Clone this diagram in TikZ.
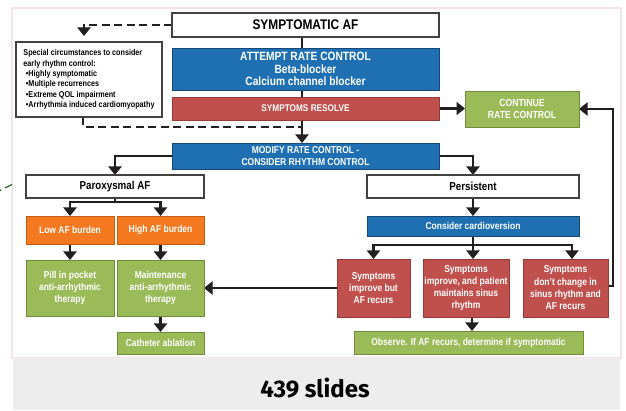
\documentclass[tikz,border=0pt]{standalone}
\usepackage{fontspec}
\setmainfont{Liberation Sans}[FakeStretch=0.85]
\newfontfamily\slidesfont{Fira Sans}
\usetikzlibrary{arrows.meta}

\definecolor{afblue}{RGB}{31,112,179}
\definecolor{afbluedark}{RGB}{24,72,118}
\definecolor{afred}{RGB}{192,80,77}
\definecolor{afreddark}{RGB}{150,58,55}
\definecolor{afgreen}{RGB}{155,187,89}
\definecolor{afgreendark}{RGB}{112,140,58}
\definecolor{aforange}{RGB}{244,121,32}
\definecolor{aforangedark}{RGB}{196,92,18}
\definecolor{afline}{RGB}{35,31,32}
\definecolor{afpink}{RGB}{246,226,232}
\definecolor{afband}{RGB}{237,237,237}
\definecolor{afmark}{RGB}{40,100,40}

\newcommand\txtsize[2]{\fontsize{#1}{#2}\selectfont}

\pgfdeclarelayer{panel}
\pgfdeclarelayer{links}
\pgfsetlayers{panel,links,main}

\tikzset{
  % a box given by its corners: {left}{top}{right}{bottom}
  spot/.style n args={4}{minimum width={#3-#1}, minimum height={#4-#2},
    at={({(#1+#3)/2},{(#2+#4)/2})}},
  box/.style={inner sep=0pt, outer sep=0pt, align=center, line width=0.8pt,
    font=\bfseries\txtsize{10}{12.3}, text=white},
  whitebox/.style={box, fill=white, draw=afline!85, line width=1.2pt, text=black},
  bluebox/.style={box, fill=afblue, draw=afbluedark},
  redbox/.style={box, fill=afred, draw=afreddark},
  greenbox/.style={box, fill=afgreen, draw=afgreendark},
  orangebox/.style={box, fill=aforange, draw=aforangedark},
  linkline/.style={line width=2.5pt, draw=afline},
  link/.style={linkline, -{Triangle[width=13pt,length=8.5pt]}},
  dashlink/.style={linkline, dash pattern=on 8pt off 4.5pt},
}

\begin{document}
\begin{tikzpicture}[x=1pt,y=-1pt]
\useasboundingbox (0,0) rectangle (626,411);

% slide panel and caption band
\begin{pgfonlayer}{panel}
  \fill[white] (0,0) rectangle (626,411);
  \draw[afpink, fill=white, line width=1.2pt] (12,8) rectangle (621,358);
  \fill[afband] (13,358) rectangle (620,410);
  \draw[afmark, line width=1.2pt, dash pattern=on 1.5pt off 4pt on 8pt off 10pt]
    (0,190.5) -- (12,184.5);
\end{pgfonlayer}

% main column
\node[whitebox, font=\bfseries\txtsize{14}{16}, spot={172}{13}{439}{37}] (sym) {SYMPTOMATIC AF};
\node[bluebox, font=\bfseries\txtsize{12}{12.6}, spot={172}{48}{439}{90}] (rate)
  {ATTEMPT RATE CONTROL\\Beta-blocker\\Calcium channel blocker};
\node[redbox, font=\bfseries\txtsize{9.7}{12}, spot={172}{97}{439}{120}] (resolve) {SYMPTOMS RESOLVE};
\node[greenbox, font=\bfseries\txtsize{10.2}{12.8}, spot={465}{91}{579}{127}] (cont) {CONTINUE\\RATE CONTROL};
\node[bluebox, font=\bfseries\txtsize{10}{12.8}, spot={172}{143}{439}{169}] (modify)
  {MODIFY RATE CONTROL -\\CONSIDER RHYTHM CONTROL};

% early rhythm control note
\node[whitebox, align=left, font=\bfseries\txtsize{8.5}{10.3}, spot={16}{42}{162}{117}] (spec)
  {Special circumstances to consider\\early rhythm control:\\
   \hspace*{2.5pt}\textbullet Highly symptomatic\\
   \hspace*{2.5pt}\textbullet Multiple recurrences\\
   \hspace*{2.5pt}\textbullet Extreme QOL impairment\\
   \hspace*{2.5pt}\textbullet Arrhythmia induced cardiomyopathy};

% paroxysmal branch
\node[whitebox, font=\bfseries\txtsize{11.5}{13}, spot={26}{175}{204}{198}] (parox) {Paroxysmal AF};
\node[orangebox, spot={26}{216}{114}{244}] (low) {Low AF burden};
\node[orangebox, spot={117}{216}{204}{244}] (high) {High AF burden};
\node[greenbox, spot={26}{260}{114}{316}] (pill) {Pill in pocket\\anti-arrhythmic\\therapy};
\node[greenbox, spot={117}{260}{204}{316}] (maint) {Maintenance\\anti-arrhythmic\\therapy};
\node[greenbox, spot={117}{332}{204}{354}] (cath) {Catheter ablation};

% persistent branch
\node[whitebox, font=\bfseries\txtsize{11.5}{13}, spot={367}{175}{579}{198}] (pers) {Persistent};
\node[bluebox, spot={367}{216}{579}{236}] (cardio) {Consider cardioversion};
\node[redbox, spot={337}{259}{410}{317}] (r1) {Symptoms\\improve but\\AF recurs};
\node[redbox, spot={423}{259}{509}{317}] (r2) {Symptoms\\improve, and patient\\maintains sinus\\rhythm};
\node[redbox, spot={523}{259}{608}{317}] (r3) {Symptoms\\don't change in\\sinus rhythm and\\AF recurs};
\node[greenbox, spot={354}{331}{583}{354}] (obs) {Observe. If AF recurs, determine if symptomatic};

% caption
\node[anchor=base, font=\slidesfont\bfseries\txtsize{24}{27}] (cap) at (315,397) {439 slides};

% connectors
\coordinate (dashjoin) at (302,127);
\coordinate (pfork) at (115,202);
\coordinate (cfork) at (473,245);

\begin{pgfonlayer}{links}
  \draw[link] ([xshift=130pt]sym.south west) -- ([xshift=130pt]modify.north west);
  \draw[dashlink, -{Triangle[width=13pt,length=8.5pt]}, shorten >=6pt]
    (sym.west) -| ([xshift=-5pt]spec.north);
  \draw[dashlink] ([xshift=-6pt]spec.south) |- (dashjoin);
  \draw[link] (resolve.east) -- (resolve.east -| cont.west);
  \draw[link] (modify.west) -| (parox.north);
  \draw[link] (modify.east) -| (pers.north);

  \draw[linkline] (parox.south) -- (pfork);
  \draw[link] (pfork) -| (low.north);
  \draw[link] (pfork) -| (high.north);
  \draw[link] (low) -- (pill);
  \draw[link] (high) -- (maint);
  \draw[link] (maint) -- (cath);

  \draw[link] (pers) -- (cardio);
  \draw[linkline] (cardio.south -| cfork) -- (cfork);
  \draw[link] (cfork) -| (r1.north);
  \draw[link] (cfork) -- (cfork |- r2.north);
  \draw[link] (cfork) -| ([xshift=6.5pt]r3.north);
  \draw[link] (r2.south -| 472,0) -- (obs.north -| 472,0);
  \draw[link] (r1) -- (maint);
  \draw[link] ([yshift=2pt]r3.east) -- ++(5,0) |- (cont.east);
\end{pgfonlayer}
\end{tikzpicture}
\end{document}
